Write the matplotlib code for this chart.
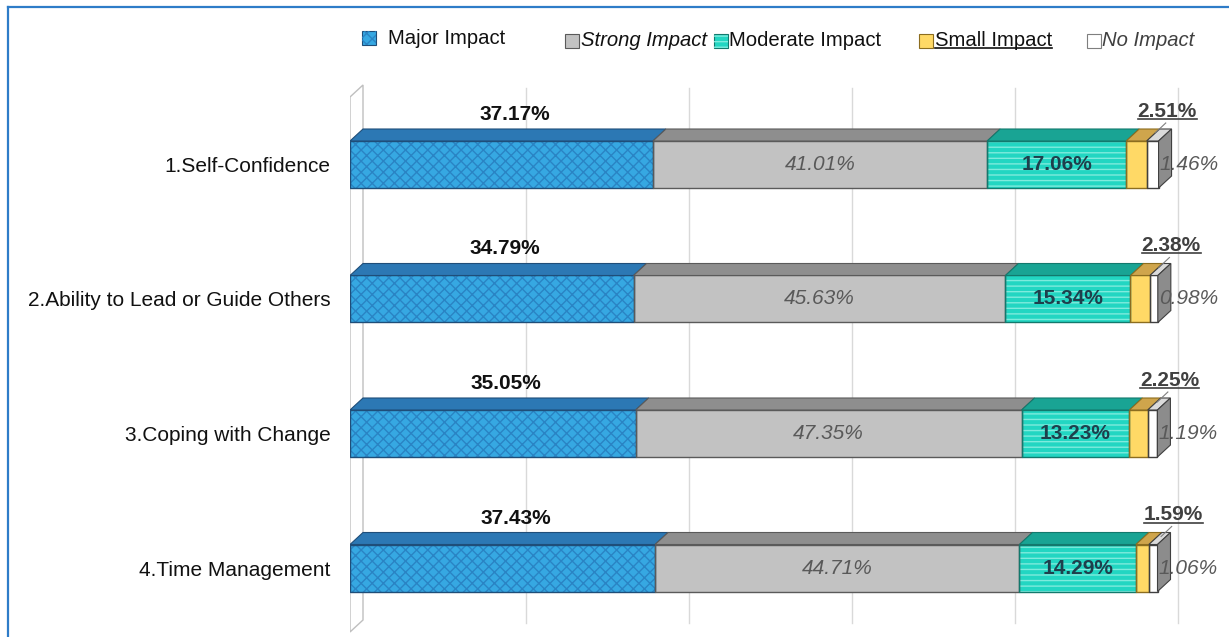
import matplotlib
matplotlib.use("Agg")
import matplotlib.pyplot as plt
from matplotlib.patches import Rectangle, Polygon
from matplotlib.lines import Line2D

plt.rcParams['font.family'] = ['Liberation Sans', 'DejaVu Sans']

categories = ["1.Self-Confidence", "2.Ability to Lead or Guide Others",
              "3.Coping with Change", "4.Time Management"]
series_names = ["Major Impact", "Strong Impact", "Moderate Impact", "Small Impact", "No Impact"]
major = [37.17, 34.79, 35.05, 37.43]
strong = [41.01, 45.63, 47.35, 44.71]
moderate = [17.06, 15.34, 13.23, 14.29]
small = [2.51, 2.38, 2.25, 1.59]
no_impact = [1.46, 0.98, 1.19, 1.06]
grid_ticks = [20, 40, 60, 80, 100]

series = [major, strong, moderate, small, no_impact]

front_colors = ["#36A8E2", "#C2C2C2", "#22D6C2", "#FFD966", "#FFFFFF"]
top_colors = ["#2C78B4", "#8E8E8E", "#19A494", "#CFA54C", "#DADADA"]
edge_colors = ["#1F4E79", "#5A5A5A", "#13796D", "#8C6D1F", "#404040"]
hatch_colors = ["#2A84C4", None, "#7EEBDD", None, None]
hatches = ["xxx", None, "---", None, None]

W, H = 1229, 637
fig = plt.figure(figsize=(W / 100, H / 100), dpi=100)

# axes geometry (pixels)
px_per_pct = 8.15
x_left_px = 350
xmax = 103.0
y0_px = 164.5
y_step = 134.5
top_px, bot_px = 80, 637
ax = fig.add_axes([x_left_px / W, 0, xmax * px_per_pct / W, (bot_px - top_px) / H])
ax.set_xlim(0, xmax)
ax.set_ylim((bot_px - y0_px) / y_step, (top_px - y0_px) / y_step)
for s in ax.spines.values():
    s.set_visible(False)
ax.set_xticks([])

dx = 13 / px_per_pct
dy = 12 / y_step
h = 47 / y_step

# gridlines (on back plane)
g_top = (88 - y0_px) / y_step
g_bot = (623 - y0_px) / y_step
for v in grid_ticks:
    ax.plot([v + dx, v + dx], [g_top, g_bot], color="#D9D9D9", lw=1.0, zorder=0)

# left wall
wall = Polygon([(0, (97 - y0_px) / y_step), (dx, (85 - y0_px) / y_step),
                (dx, (620 - y0_px) / y_step), (0, (632 - y0_px) / y_step)],
               closed=True, facecolor="white", edgecolor="#BFBFBF", lw=1.0, zorder=1)
ax.add_patch(wall)

yvals = list(range(len(categories)))
ax.set_yticks(yvals)
ax.set_yticklabels(categories, fontsize=15, color="#111111")
ax.tick_params(axis='y', length=0, pad=14)

small_labels = []
for i, yc in enumerate(yvals):
    yt = yc - h / 2
    yb = yc + h / 2
    left = 0.0
    for j, vals in enumerate(series):
        w = vals[i]
        x0, x1 = left, left + w
        ax.add_patch(Rectangle((x0, yt), w, h, facecolor=front_colors[j],
                               edgecolor="none", lw=0, zorder=2))
        if hatches[j]:
            ax.add_patch(Rectangle((x0, yt), w, h, facecolor="none",
                                   edgecolor=hatch_colors[j], hatch=hatches[j],
                                   lw=0, zorder=2.1))
        ax.add_patch(Rectangle((x0, yt), w, h, facecolor="none",
                               edgecolor=edge_colors[j], lw=1.0, zorder=2.2))
        ax.add_patch(Polygon([(x0, yt), (x1, yt), (x1 + dx, yt - dy), (x0 + dx, yt - dy)],
                             closed=True, facecolor=top_colors[j],
                             edgecolor=edge_colors[j], lw=0.8, zorder=2.3))
        if j == len(series) - 1:
            ax.add_patch(Polygon([(x1, yt), (x1 + dx, yt - dy), (x1 + dx, yb - dy), (x1, yb)],
                                 closed=True, facecolor="#8C8C8C",
                                 edgecolor="#404040", lw=0.8, zorder=2.3))
        # labels
        if j == 0:
            ax.text((x0 + x1) / 2 + dx, yt - dy - 5 / y_step, f"{w:.2f}%",
                    ha="center", va="bottom", fontsize=15, fontweight="bold",
                    color="#111111", zorder=5)
        elif j == 1:
            ax.text((x0 + x1) / 2, yc, f"{w:.2f}%", ha="center", va="center",
                    fontsize=15, fontstyle="italic", color="#595959", zorder=5)
        elif j == 2:
            ax.text((x0 + x1) / 2, yc, f"{w:.2f}%", ha="center", va="center",
                    fontsize=15, fontweight="bold", color="#1E3F4C", zorder=5)
        elif j == 3:
            cx = (x0 + x1) / 2 + dx
            lx = cx + 2.2
            ly = yt - dy - 8 / y_step
            t = ax.text(lx, ly, f"{w:.2f}%", ha="center", va="bottom",
                        fontsize=15, fontweight="bold", color="#404040", zorder=5)
            small_labels.append(t)
            ax.plot([lx - 0.2, cx + 0.7], [ly + 2 / y_step, yt - dy + 4 / y_step],
                    color="#7F7F7F", lw=0.8, zorder=6)
        else:
            ax.text(x1 + 0.1, yc, f"{w:.2f}%", ha="left", va="center",
                    fontsize=15, fontstyle="italic", color="#595959", zorder=6)
        left = x1

# legend (manual, figure pixel coords)
def fx(p):
    return p / W

def fy(p):
    return 1 - p / H

leg_items = [
    (362, 388, 0, "normal", "normal", "#111111", False, 38),
    (565, 581, 1, "normal", "italic", "#111111", False, 41),
    (714, 729, 2, "normal", "normal", "#111111", False, 41),
    (919, 935, 3, "normal", "normal", "#111111", True, 41),
    (1087, 1102, 4, "normal", "italic", "#404040", False, 41),
]
leg_texts = []
for mx, tx, j, fw, fs, col, underline, yc_px in leg_items:
    sq = 14
    fig.patches.append(Rectangle((fx(mx), fy(yc_px + sq / 2)), sq / W, sq / H,
                                 transform=fig.transFigure, facecolor=front_colors[j],
                                 edgecolor=edge_colors[j] if j != 4 else "#7F7F7F", lw=0.8))
    if hatches[j]:
        fig.patches.append(Rectangle((fx(mx), fy(yc_px + sq / 2)), sq / W, sq / H,
                                     transform=fig.transFigure, facecolor="none",
                                     edgecolor=hatch_colors[j], hatch=hatches[j], lw=0))
    t = fig.text(fx(tx), fy(yc_px), series_names[j], ha="left", va="center",
                 fontsize=14.6, fontweight=fw, fontstyle=fs, color=col)
    if underline:
        leg_texts.append(t)

# border (left & top)
fig.add_artist(Line2D([fx(8), fx(8)], [fy(7), 0], transform=fig.transFigure,
                      color="#2E7CC8", lw=1.6))
fig.add_artist(Line2D([fx(8), 1], [fy(7), fy(7)], transform=fig.transFigure,
                      color="#2E7CC8", lw=1.6))

# underlines
fig.canvas.draw()
r = fig.canvas.get_renderer()
inv = fig.transFigure.inverted()
for t in small_labels + leg_texts:
    bb = t.get_window_extent(renderer=r)
    (xa, ya), (xb, yb2) = inv.transform([(bb.x0, bb.y0), (bb.x1, bb.y0)])
    fig.add_artist(Line2D([xa, xb], [ya + 2 / H, ya + 2 / H], transform=fig.transFigure,
                          color=t.get_color(), lw=1.2))

fig.savefig("out.png", dpi=100)
